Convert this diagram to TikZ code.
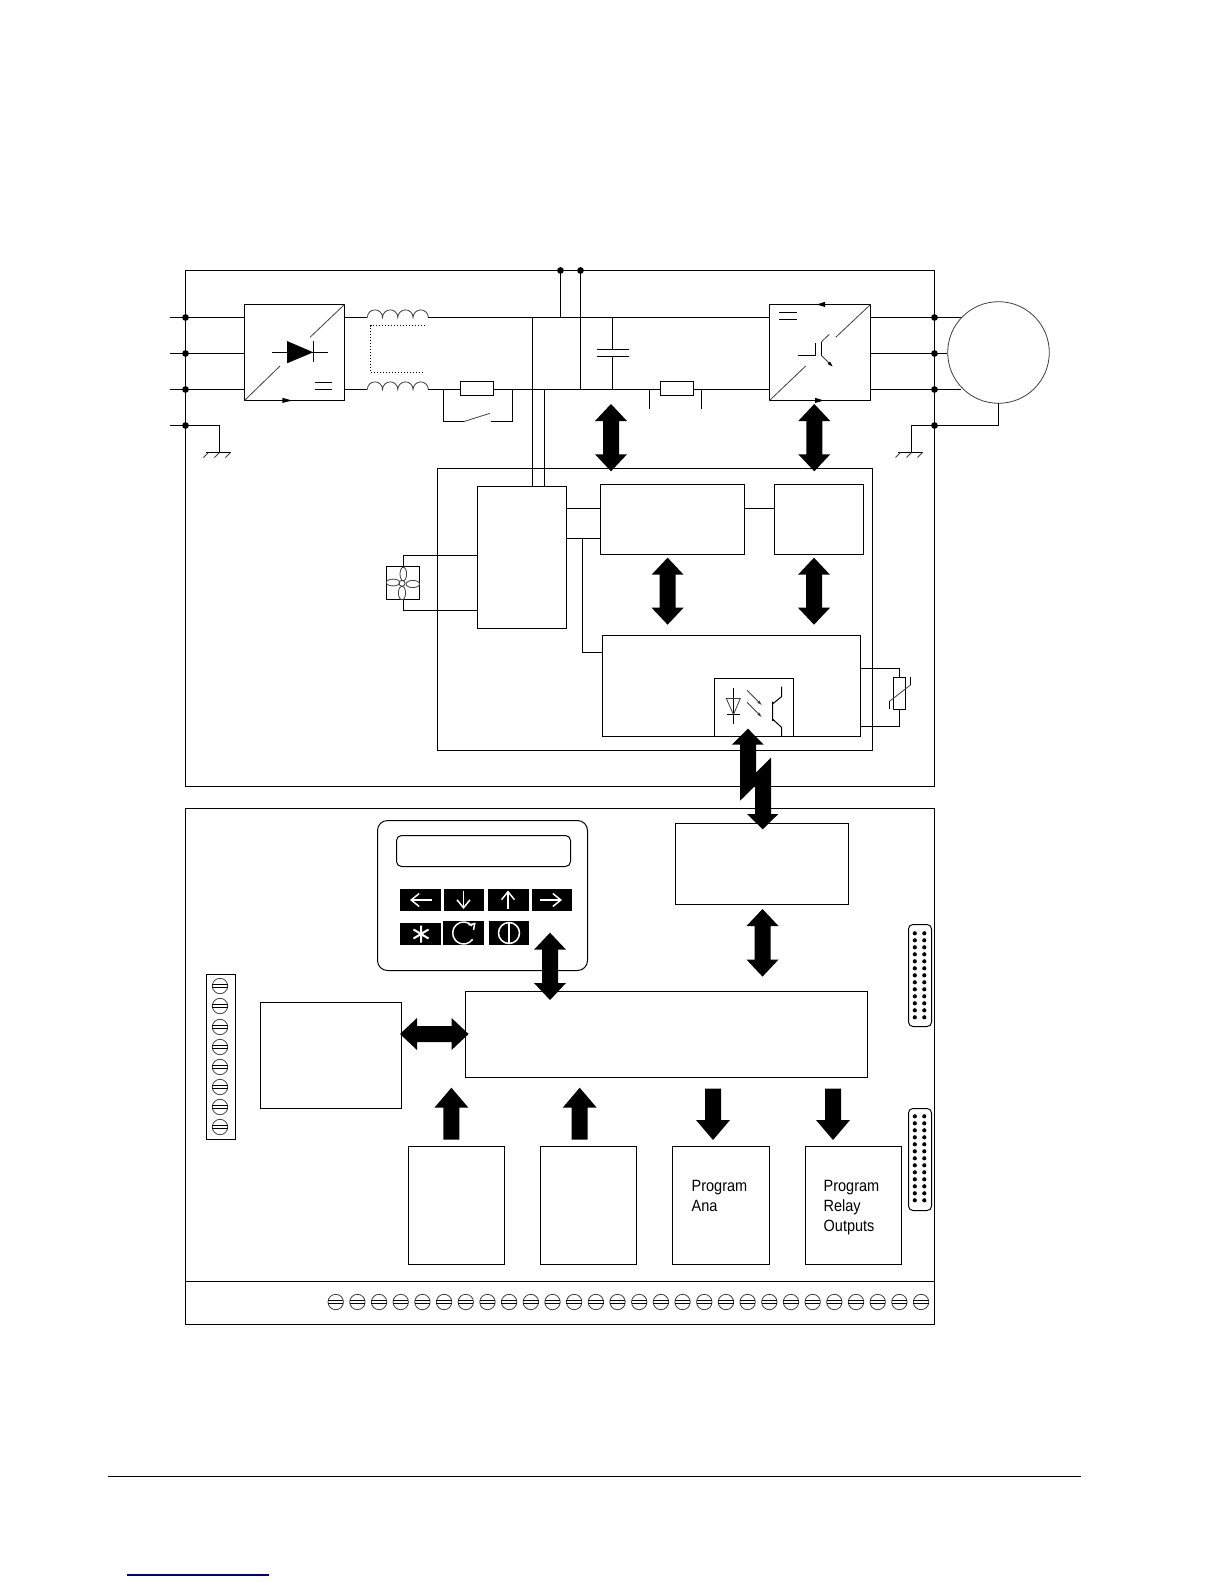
\documentclass[tikz,border=0pt]{standalone}
\usepackage{fontspec}
\setmainfont{Liberation Sans}
\usetikzlibrary{arrows.meta}
\newcommand\Blk[6][blk]{\pgfmathsetmacro\bxa{floor(#3)+.5}\pgfmathsetmacro\bya{floor(#4)+.5}\pgfmathsetmacro\bxb{floor(#5)+.5}\pgfmathsetmacro\byb{floor(#6)+.5}\pgfmathsetmacro\bkw{(\bxb-\bxa)*.5}\pgfmathsetmacro\bkh{(\byb-\bya)*.5}\pgfmathsetmacro\bkx{(\bxa+\bxb)/2}\pgfmathsetmacro\bky{(\bya+\byb)/2}\node[#1,minimum width=\bkw pt,minimum height=\bkh pt] (#2) at (\bkx,\bky) {};}
% vertical double block arrow: x, ytop, ybottom
\newcommand\VArrow[3]{\fill (#1,#2) -- ++(16,17) -- ++(-8,0) -- (#1+8,#3-17) -- ++(8,0) -- (#1,#3) -- ++(-16,-17) -- ++(8,0) -- (#1-8,#2+17) -- ++(-8,0) -- cycle;}
\newcommand\UpArrow[3]{\fill (#1,#2) -- ++(17,20) -- ++(-9,0) -- (#1+8,#3) -- (#1-8,#3) -- (#1-8,#2+20) -- ++(-9,0) -- cycle;}
\newcommand\DownArrow[3]{\fill (#1,#3) -- ++(17,-20) -- ++(-9,0) -- (#1+8,#2) -- (#1-8,#2) -- (#1-8,#3-20) -- ++(-9,0) -- cycle;}
\newcommand\Screw[2]{\draw[thinw] (#1,#2) circle[radius=7.7];\draw[wire] (#1-7.7,#2-1.5) -- ++(15.4,0) (#1-7.7,#2+1.5) -- ++(15.4,0);}
\newcommand\Coil[2]{\draw[thinw] (#1,#2) arc[start angle=180,end angle=360,radius=7.63] arc[start angle=180,end angle=360,radius=7.63] arc[start angle=180,end angle=360,radius=7.63] arc[start angle=180,end angle=360,radius=7.63];}
\newcommand\Earth[2]{\draw[wire] (#1-14,#2) -- (#1+11.5,#2);\foreach \gx in {-11,0,11}{\draw[thinw] (#1+\gx,#2) -- ++(-5,5);}}
\newcommand\Conn[3]{\draw[wire,rounded corners=2.2pt] (908.5,#1) rectangle (931.5,#2);\foreach \cr in {0,...,12}{\fill (914.8,#3+\cr*7) circle[radius=2.1];\fill (924.3,#3+\cr*7) circle[radius=2.1];}}
\newcommand\KeyBlk[4]{\fill (#1,#2) rectangle (#3,#4);}
\tikzset{
 wire/.style={line width=.5pt,draw=black},
 thinw/.style={line width=.4pt,draw=black!75},
 blk/.style={draw=black,line width=.5pt,inner sep=0pt,outer sep=0pt,rectangle},
 dotn/.style={fill=black,circle,inner sep=0pt,outer sep=0pt,minimum size=3.4pt},
 lab/.style={anchor=base west,inner sep=0pt,xscale=.89,font=\fontsize{8.15pt}{10pt}\selectfont},
 keyw/.style={line width=.75pt,draw=white},
}
\begin{document}
\begin{tikzpicture}[x=.5pt,y=-.5pt]
\useasboundingbox[fill=white] (0,0) rectangle (1224,1584);
% ---- outer frames
\Blk{Top}{185.3}{270.3}{934.7}{786}
\Blk{Low}{185.3}{808.3}{934.7}{1324.3}
\coordinate (TermL) at (185.5,1281.5);
\draw[wire] (TermL) -- (TermL -| Low.east);
% ---- power section rows
\coordinate (L1) at (170,317.5);
\coordinate (L2) at (170,353.5);
\coordinate (L3) at (170,389.5);
\coordinate (L4) at (170,425.5);
\Blk{Rect}{244.3}{304.3}{344.3}{400.3}
\Blk{Inv}{769.3}{304.3}{870.3}{400.3}
\foreach \n in {1,2,3}{\draw[wire] (L\n) -- (L\n -| Rect.west);}
\draw[wire] (L4) -- (219.5,425.5) coordinate (G1) -- (219.5,452.5) coordinate (G1b);
\Earth{219.5}{452.5}
% rectifier symbol
\draw[thinw] (Rect.south west) -- (280,366) (310,337.3) -- (Rect.north east);
\fill (287,341) -- (313.3,352.3) -- (287,363.3) -- cycle;
\draw[wire] (272.3,352.5) -- (328.3,352.5) (313.5,341) -- (313.5,362);
\draw[wire] (315,382.5) -- (332.3,382.5) (315,389.5) -- (332.3,389.5);
\fill (282.3,397.8) -- (292,400.5) -- (282.3,403) -- cycle;
% inductors
\coordinate (C1a) at (367.3,317.5);
\coordinate (C1b) at (428.3,317.5);
\coordinate (C2a) at (367.3,389.5);
\coordinate (C2b) at (428.3,389.5);
\Coil{367.3}{317.5}
\Coil{367.3}{389.5}
\draw[wire] (Rect.east |- C1a) -- (C1a);
\draw[wire] (Rect.east |- C2a) -- (C2a);
\draw[wire,densely dotted,line width=.5pt] (425,325.5) -- (370.5,325.5) -- (370.5,372.5) -- (425,372.5);
% DC bus
\Blk{Rone}{460.3}{381.3}{493.3}{395.7}
\Blk{Rtwo}{660.3}{381.3}{693.7}{395.7}
\draw[wire] (C1b) -- (C1b -| Inv.west);
\draw[wire] (C2b) -- (C2b -| Rone.west);
\draw[wire] (Rone.east |- C2b) -- (Rtwo.west |- C2b);
\draw[wire] (Rtwo.east |- C2b) -- (Inv.west |- C2b);
% bypass switch
\draw[wire] (443.5,389.5) -- (443.5,421.5) -- (464,421.5);
\draw[thinw] (464,421.5) -- (490,413.3);
\draw[wire] (491,421.5) -- (512.5,421.5) -- (512.5,389.5);
% capacitor
\draw[wire] (612.5,317.5) -- (612.5,349.5) (596.7,349.5) -- (628.7,349.5) (596.7,356.5) -- (628.7,356.5) (612.5,356.5) -- (612.5,389.5);
% ticks
\draw[wire] (649.5,389.5) -- (649.5,409.3) (701.5,389.5) -- (701.5,409.3);
% top tap dots
\node[dotn] (Da) at (560.5,270.5) {};
\node[dotn] (Db) at (580.5,270.5) {};
\draw[wire] (Da) -- (560.5,317.5);
\draw[wire] (Db) -- (580.5,389.5);
% inverter symbol
\draw[thinw] (Inv.south west) -- (805.7,366) (835.7,337.3) -- (Inv.north east);
\draw[wire] (779.3,312.5) -- (797,312.5) (779.3,319.5) -- (797,319.5);
\fill (816.7,304.5) -- (825,301.8) -- (825,307) -- cycle;
\fill (815,397.8) -- (824,400.5) -- (815,403) -- cycle;
\draw[wire] (798.3,355.5) -- (815.5,355.5) -- (815.5,342.7);
\draw[wire] (821.5,341.7) -- (821.5,355.5);
\draw[thinw] (821.5,341.7) -- (829.3,334.3);
\draw[thinw] (821.5,355.5) -- (831.7,365.7);
\fill (832.5,366.5) -- (827.5,364) -- (830,361.5) -- cycle;
% motor
\node[draw=black!75,line width=.4pt,circle,inner sep=0pt,outer sep=0pt,minimum size=50.8pt] (Mot) at (998.5,352.5) {};
\draw[wire] (Inv.east |- L1) -- (961.4,317.5);
\draw[wire] (Inv.east |- L2) -- (947.2,353.5);
\draw[wire] (Inv.east |- L3) -- (961.4,389.5);
\draw[wire] (Mot.south) -- (998.5,425.5) -- (911.5,425.5) -- (911.5,452.5);
\Earth{911.5}{452.5}
% dots
\foreach \nn/\yy in {a/317.5,b/353.5,c/389.5,d/425.5}{
 \node[dotn] (La\nn) at (185.5,\yy) {};
 \node[dotn] (Ra\nn) at (934.5,\yy) {};}
% ---- control section
\Blk{Ctl}{437.3}{468.3}{872.5}{750.3}
\Blk{Psu}{477.3}{486.3}{566.3}{628.3}
\Blk{Bb}{600.3}{484.3}{744.3}{554.3}
\Blk{Cc}{774.6}{484.3}{863.5}{554.3}
\Blk{Dd}{602.3}{635.3}{860.7}{736.3}
\Blk{Opto}{714.3}{678.3}{793.3}{736.3}
\Blk{Fan}{386.3}{566.3}{419.7}{599.3}
\draw[wire] (532.5,317.5) -- (532.5,486.5);
\draw[wire] (544.5,389.5) -- (544.5,486.5);
\coordinate (PB1) at (566.5,508.5);
\coordinate (PB2) at (566.5,538.5);
\draw[wire] (PB1) -- (PB1 -| Bb.west);
\draw[wire] (PB2) -- (PB2 -| Bb.west);
\draw[wire] (Bb.east |- 0,508.5) -- (Cc.west |- 0,508.5);
\draw[wire] (582.5,538.5) -- (582.5,652.5) -- (Dd.west |- 0,652.5);
\draw[wire] (Fan.north -| 403.5,0) -- (403.5,555.5) -- (Psu.west |- 0,555.5);
\draw[wire] (Fan.south -| 403.5,0) -- (403.5,610.5) -- (Psu.west |- 0,610.5);
% fan
\draw[thinw] (402,583.3) circle[radius=3];
\draw[thinw] (403.3,574) ellipse[x radius=3.3,y radius=6.8];
\draw[thinw] (402,593) ellipse[x radius=3.6,y radius=6.8];
\draw[thinw] (393,582.5) ellipse[x radius=6.8,y radius=3.4];
\draw[thinw] (412.8,584) ellipse[x radius=6.8,y radius=3.6];
% optocoupler
\draw[wire] (733.5,688.3) -- (733.5,724.3) (727,714.5) -- (740,714.5);
\draw[thinw] (726.3,698.5) -- (740.3,698.5) -- (733.5,714.5) -- cycle;
\draw[thinw,-{Latex[length=2.5pt,width=1.6pt]}] (747,690.3) -- (762,705.3);
\draw[thinw,-{Latex[length=2.5pt,width=1.6pt]}] (747,702.3) -- (762,717.3);
\draw[wire] (772.5,701.7) -- (772.5,721) (772.5,704) -- (781.5,696.7) -- (781.5,686.7) (772.5,719) -- (781.5,727.3) -- (781.5,736.5);
% varistor
\Blk{Var}{893.3}{677.3}{905.7}{709.3}
\draw[wire] (Dd.east |- 0,668.5) -- (899.5,668.5) -- (Var.north);
\draw[wire] (Var.south) -- (899.5,726.5) -- (Dd.east |- 0,726.5);
\draw[wire] (889.5,709.3) -- (889.5,701.3) (910.5,685) -- (910.5,676.7);
\draw[thinw] (889.5,701.3) -- (910.5,685);
% block arrows, power
\VArrow{611}{404}{471.3}
\VArrow{814.3}{404}{471.3}
\VArrow{667.6}{557.7}{624.7}
\VArrow{814}{557.7}{624.7}
% lightning arrow
\fill (748,728.7) -- (763.7,744.7) -- (756,744.7) -- (756,772.7) -- (771,757.7) -- (771,814) -- (778.3,814) -- (762.7,829.3) -- (747,814) -- (755,814) -- (755,786) -- (740,800.7) -- (740,744.7) -- (732,744.7) -- cycle;
% ---- lower section
\Blk{Ee}{675.7}{823.3}{848.3}{904}
\Blk{Ff}{465.3}{991.6}{867.5}{1077.6}
\Blk{Gg}{260.3}{1002.3}{401}{1108.3}
\Blk{Hh}{408.6}{1146.3}{504}{1264.3}
\Blk{Ii}{540.3}{1146.3}{636.3}{1264.3}
\Blk{Jj}{672.3}{1146.3}{769.3}{1264.3}
\Blk{Kk}{805.3}{1146.3}{901.3}{1264.3}
% keypad
\Blk[blk,rounded corners=5pt]{Pad}{377.3}{820.7}{587.3}{970.7}
\Blk[blk,rounded corners=2.5pt]{Disp}{396}{835}{570.7}{866.7}
\KeyBlk{400}{889}{441}{910.7}
\KeyBlk{444}{889}{483.7}{910.7}
\KeyBlk{488}{889}{529}{910.7}
\KeyBlk{532.3}{889}{572}{910.7}
\KeyBlk{400}{923}{441}{945}
\KeyBlk{443}{921}{483.7}{945}
\KeyBlk{489}{921}{529}{945}
\draw[keyw,-{Straight Barb[length=4pt,width=6.5pt]}] (432,900) -- (410,900);
\draw[keyw,-{Straight Barb[length=4pt,width=6.5pt]}] (463.5,890.5) -- (463.5,909);
\draw[keyw,-{Straight Barb[length=4pt,width=6.5pt]}] (508,909) -- (508,890.5);
\draw[keyw,-{Straight Barb[length=4pt,width=6.5pt]}] (540,900) -- (562,900);
\draw[keyw,line width=1pt] (421,925.5) -- (421,942.5) (413.5,929.5) -- (428.5,938.5) (413.5,938.5) -- (428.5,929.5);
\draw[keyw] (472.1,925.9) arc[start angle=-40,end angle=-325,radius=11];
\draw[keyw] (468.5,925) -- (474.7,923.5) -- (473.5,930);
\draw[keyw] (509,933) circle[radius=10.5];
\draw[keyw] (509,922.5) -- (509,943.5);
% screw strip
\Blk{Strip}{206.3}{974.3}{235.3}{1139.3}
\foreach \k in {0,...,7}{\pgfmathsetmacro\sy{round(986.3+\k*20.14)}\Screw{220}{\sy}}
\foreach \k in {0,...,27}{\pgfmathsetmacro\sx{335.7+\k*21.68}\Screw{\sx}{1302}}
% connectors
\Conn{924.5}{1026.5}{933.3}
\Conn{1108.5}{1210.5}{1116.3}
% block arrows, lower
\VArrow{762.5}{909}{976.6}
\VArrow{550}{932.7}{1000}
\fill (400,1034) -- (417,1018) -- (417,1026) -- (451.6,1026) -- (451.6,1018) -- (468.6,1034) -- (451.6,1050) -- (451.6,1042) -- (417,1042) -- (417,1050) -- cycle;
\UpArrow{451.4}{1087.7}{1139.5}
\UpArrow{579.7}{1087.7}{1139.5}
\DownArrow{713}{1088.7}{1140}
\DownArrow{833}{1088.7}{1140}
% labels
\node[lab] (t1) at (691.3,1191.7) {Program};
\node[lab] (t2) at (691.3,1211.7) {Ana};
\node[lab] (t3) at (823.3,1191.7) {Program};
\node[lab] (t4) at (823.3,1211.7) {Relay};
\node[lab] (t5) at (823.3,1231.7) {Outputs};
% footer
\draw[line width=.7pt] (108,1476.5) -- (1080.6,1476.5);
\draw[line width=.6pt,draw=blue!50!black] (127,1575) -- (269,1575);
\end{tikzpicture}
\end{document}
